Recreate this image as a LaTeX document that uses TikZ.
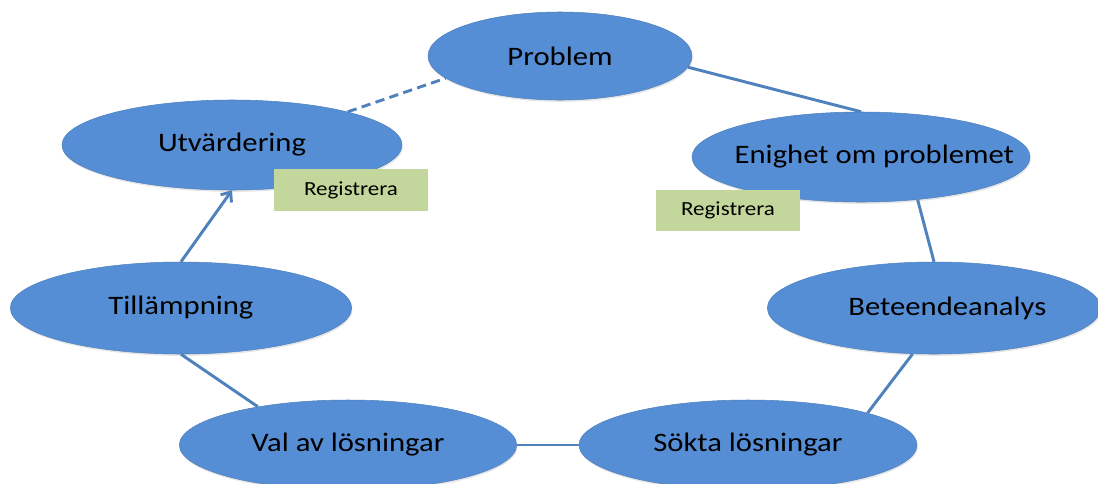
\documentclass[tikz,border=0pt]{standalone}
\usepackage{fontspec}
\setmainfont[FakeStretch=1.15]{Carlito}
\usetikzlibrary{shapes.geometric}
\usetikzlibrary{arrows.meta}
\usetikzlibrary{shadows}
\definecolor{ovalblue}{HTML}{558ED5}
\definecolor{linkblue}{HTML}{4F81BD}
\definecolor{notegreen}{HTML}{C3D69B}
\tikzstyle{oval}=[ellipse, fill=ovalblue, draw=linkblue, line width=0.4pt, inner sep=0,
                  drop shadow={shadow xshift=0.6pt, shadow yshift=-1.4pt, opacity=0.2}]
\tikzstyle{note}=[fill=notegreen, inner sep=0, font=\fontsize{15}{17}\selectfont]
\tikzstyle{link}=[draw=linkblue, line width=2.2pt]

\begin{document}
\begin{tikzpicture}[x=0.75pt, y=-0.75pt,
                    % Text inside the ovals.
                    every label/.style={font=\fontsize{20}{24}\selectfont, inner sep=0}]
    \useasboundingbox (0,0) rectangle (1098,483);
    \node[oval, minimum width=198pt, minimum height=66pt, label=center:Problem] (prob) at (560,56) {};
    \node[oval, minimum width=255pt, minimum height=67.5pt, label=center:Utvärdering] (utv) at (232,145) {};
    \node[oval, minimum width=253.5pt, minimum height=67.5pt, label={[xshift=10pt]center:Enighet om problemet}] (enig) at (861,157) {};
    \node[oval, minimum width=250pt, minimum height=69pt, label={[xshift=10pt]center:Beteendeanalys}] (bet) at (934,308) {};
    \node[oval, minimum width=256pt, minimum height=69pt, label=center:Tillämpning] (till) at (181,308) {};
    \node[oval, minimum width=253pt, minimum height=67.5pt, label=center:Val av lösningar] (val) at (348,445) {};
    \node[oval, minimum width=253.5pt, minimum height=67.5pt, label=center:Sökta lösningar] (sok) at (748,445) {};

    \draw[link] (prob.-5) -- (enig.north);
    \draw[link] (enig.-37) -- (bet.north);
    \draw[link] (bet.245) -- (sok.15);
    \draw[link] (sok.west) -- (val.east);
    \draw[link] (val.157) -- (till.south);
    \draw[link, -{Straight Barb[length=6pt, width=10pt]}] (till.north) -- (utv.south);
    \draw[link, dash pattern=on 7pt off 4pt] (utv.16) -- (prob.191);

    \node[note, minimum width=115.5pt, minimum height=31.5pt] (regutv) at (351,190) {Registrera};
    \node[note, minimum width=108pt, minimum height=30.75pt] (regenig) at (728,210.5) {Registrera};
\end{tikzpicture}
\end{document}
